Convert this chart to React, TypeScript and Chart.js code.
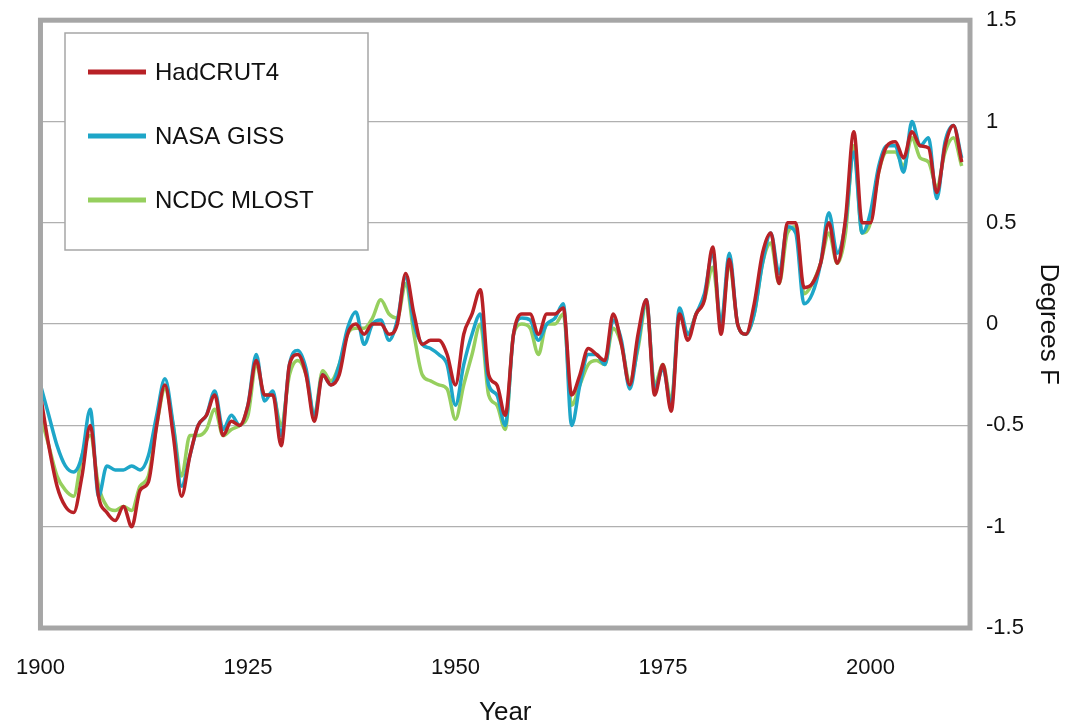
import React, { useEffect, useRef } from "react";
import { Chart, registerables } from "chart.js";
Chart.register(...registerables);

const years: number[] = [];
for (let y = 1900; y <= 2011; y++) years.push(y);

const hadcrut4 = [-0.35,-0.6,-0.8,-0.9,-0.93,-0.75,-0.5,-0.85,-0.93,-0.97,-0.9,-1.0,-0.82,-0.78,-0.5,-0.3,-0.55,-0.85,-0.65,-0.5,-0.45,-0.35,-0.55,-0.48,-0.5,-0.4,-0.18,-0.35,-0.35,-0.6,-0.2,-0.15,-0.25,-0.48,-0.25,-0.3,-0.25,-0.05,0.0,-0.05,0.0,0.0,-0.05,0.0,0.25,0.05,-0.1,-0.08,-0.08,-0.15,-0.3,-0.05,0.05,0.17,-0.25,-0.3,-0.45,-0.05,0.05,0.05,-0.05,0.05,0.05,0.08,-0.35,-0.25,-0.12,-0.15,-0.18,0.05,-0.1,-0.3,-0.05,0.12,-0.35,-0.2,-0.43,0.05,-0.08,0.05,0.12,0.38,-0.05,0.32,0.0,-0.05,0.1,0.35,0.45,0.2,0.5,0.5,0.18,0.2,0.3,0.5,0.3,0.52,0.95,0.5,0.5,0.75,0.88,0.9,0.82,0.95,0.88,0.87,0.65,0.88,0.98,0.8];
const nasaGiss = [-0.3,-0.45,-0.6,-0.7,-0.73,-0.65,-0.42,-0.85,-0.7,-0.72,-0.72,-0.7,-0.72,-0.65,-0.45,-0.27,-0.5,-0.8,-0.65,-0.5,-0.45,-0.33,-0.52,-0.45,-0.5,-0.4,-0.15,-0.38,-0.33,-0.55,-0.2,-0.13,-0.22,-0.45,-0.25,-0.3,-0.2,-0.02,0.06,-0.1,0.0,0.02,-0.08,0.02,0.23,0.0,-0.1,-0.12,-0.15,-0.2,-0.4,-0.2,-0.05,0.05,-0.3,-0.35,-0.5,-0.05,0.03,0.02,-0.08,0.0,0.03,0.1,-0.5,-0.3,-0.15,-0.15,-0.2,0.02,-0.08,-0.32,-0.1,0.12,-0.32,-0.22,-0.4,0.08,-0.05,0.05,0.15,0.35,0.0,0.35,0.0,-0.05,0.05,0.3,0.45,0.25,0.48,0.45,0.1,0.15,0.3,0.55,0.35,0.5,0.85,0.45,0.55,0.78,0.88,0.88,0.75,1.0,0.88,0.92,0.62,0.9,0.98,0.82];
const ncdcMlost = [-0.45,-0.6,-0.75,-0.82,-0.85,-0.65,-0.55,-0.8,-0.9,-0.92,-0.9,-0.92,-0.8,-0.75,-0.5,-0.32,-0.5,-0.75,-0.55,-0.55,-0.52,-0.42,-0.55,-0.52,-0.5,-0.45,-0.2,-0.35,-0.35,-0.5,-0.25,-0.18,-0.25,-0.45,-0.23,-0.28,-0.2,-0.05,-0.02,-0.02,0.03,0.12,0.05,0.03,0.2,-0.05,-0.25,-0.28,-0.3,-0.32,-0.47,-0.3,-0.15,0.0,-0.35,-0.4,-0.52,-0.05,0.0,-0.02,-0.15,0.0,0.0,0.05,-0.4,-0.3,-0.2,-0.18,-0.2,-0.02,-0.1,-0.28,-0.12,0.1,-0.3,-0.2,-0.38,0.05,-0.05,0.05,0.12,0.28,0.0,0.3,0.0,-0.05,0.05,0.3,0.4,0.2,0.45,0.48,0.15,0.2,0.3,0.45,0.3,0.45,0.88,0.45,0.5,0.75,0.85,0.85,0.78,0.92,0.82,0.8,0.68,0.85,0.92,0.78];

const seriesNames = ["HadCRUT4", "NASA GISS", "NCDC MLOST"];
const seriesColors = ["#b82126", "#1ea6c8", "#96cf5e"];
const xTicks = [1900, 1925, 1950, 1975, 2000];
const yTicks = [-1.5, -1, -0.5, 0, 0.5, 1, 1.5];

const FONT = "'Liberation Sans', Arial, sans-serif";
const OX = 3, OY = 9;

export default function App() {
  const ref = useRef<HTMLCanvasElement>(null);
  useEffect(() => {
    const all = [hadcrut4, nasaGiss, ncdcMlost];
    const frame = {
      id: "frame",
      afterDatasetsDraw(chart: any) {
        const { ctx, chartArea: a } = chart;
        ctx.save();
        ctx.strokeStyle = "#a6a6a6";
        ctx.lineWidth = 5;
        ctx.strokeRect(a.left, a.top, a.right - a.left, a.bottom - a.top);
        const lx = 65 + OX, ly = 33 + OY, lw = 303, lh = 217;
        ctx.fillStyle = "#fff";
        ctx.fillRect(lx, ly, lw, lh);
        ctx.lineWidth = 1.5;
        ctx.strokeStyle = "#a6a6a6";
        ctx.strokeRect(lx, ly, lw, lh);
        ctx.font = `24px ${FONT}`;
        ctx.textBaseline = "middle";
        seriesNames.forEach((n, i) => {
          const y = 72 + OY + i * 64;
          ctx.strokeStyle = seriesColors[i];
          ctx.lineWidth = 5;
          ctx.beginPath();
          ctx.moveTo(88 + OX, y);
          ctx.lineTo(146 + OX, y);
          ctx.stroke();
          ctx.fillStyle = "#111";
          ctx.fillText(n, 155 + OX, y + 1);
        });
        ctx.restore();
      },
    };
    const chart = new Chart(ref.current!, {
      type: "line",
      data: {
        datasets: all.map((d, i) => ({
          label: seriesNames[i],
          data: d.map((v, j) => ({ x: years[j], y: v })),
          borderColor: seriesColors[i],
          borderWidth: 3.5,
          pointRadius: 0,
          cubicInterpolationMode: "monotone" as const,
          fill: false,
        })),
      },
      options: {
        animation: false,
        responsive: false,
        layout: { padding: { left: 37, top: 11, right: 2, bottom: 0 } },
        plugins: { legend: { display: false }, tooltip: { enabled: false } },
        scales: {
          x: {
            type: "linear",
            min: 1900,
            max: 2012,
            afterBuildTicks: (s: any) => {
              s.ticks = xTicks.map((v) => ({ value: v }));
            },
            afterFit: (s: any) => {
              s.height = 100;
            },
            grid: { display: false },
            border: { display: false },
            ticks: { color: "#111", font: { size: 22, family: FONT }, padding: 19, maxRotation: 0, callback: (v: any) => String(v) },
            title: { display: true, text: "Year", color: "#111", font: { size: 26, family: FONT }, padding: { top: 0, bottom: 0 } },
          },
          y: {
            position: "right",
            min: -1.5,
            max: 1.5,
            afterBuildTicks: (s: any) => {
              s.ticks = yTicks.map((v) => ({ value: v }));
            },
            afterFit: (s: any) => {
              s.width = 94;
            },
            grid: { color: "#b0b0b0", lineWidth: 1.2, drawTicks: false },
            border: { display: false },
            ticks: { color: "#111", font: { size: 22, family: FONT }, padding: 16, callback: (v: any) => String(v) },
            title: { display: true, text: "Degrees F", color: "#111", font: { size: 26, family: FONT }, padding: { top: 0, bottom: 0 } },
          },
        },
      },
      plugins: [frame],
    });
    return () => chart.destroy();
  }, []);
  return (
    <div style={{ position: "fixed", left: -OX, top: -OY, width: 1066 + OX, height: 728 + OY, background: "#fff" }}>
      <canvas ref={ref} width={1066 + OX} height={728 + OY} style={{ width: 1066 + OX, height: 728 + OY }} />
    </div>
  );
}
